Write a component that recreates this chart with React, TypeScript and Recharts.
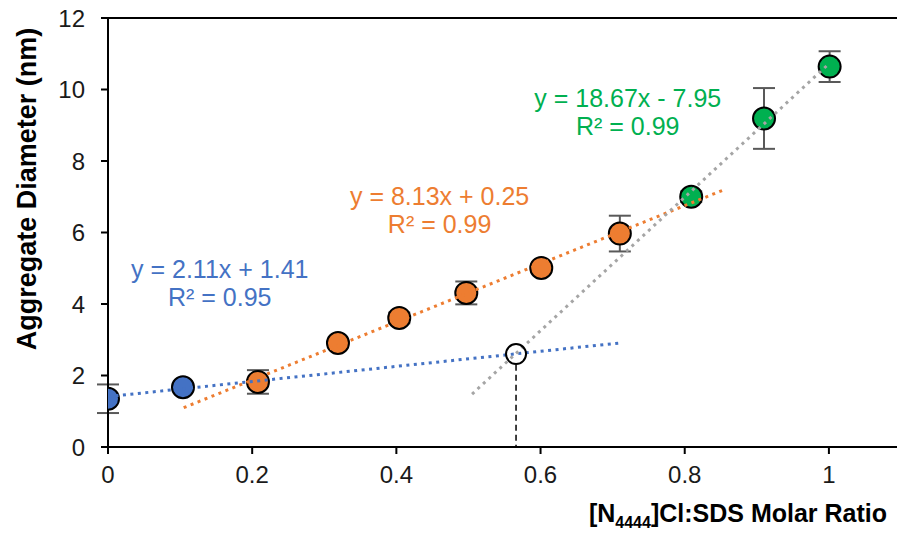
import React from 'react'
import {
  ComposedChart, Scatter, Line, XAxis, YAxis, ErrorBar,
  ReferenceLine, ReferenceDot,
} from 'recharts'

// measured points, grouped by regime
const blueX = [0, 0.104]
const blueY = [1.35, 1.67]
const blueErr = [0.4, 0.1]

const orangeX = [0.208, 0.319, 0.404, 0.497, 0.601, 0.71]
const orangeY = [1.82, 2.91, 3.61, 4.31, 5.01, 5.97]
const orangeErr = [0.33, 0.1, 0.15, 0.32, 0.1, 0.5]

const greenX = [0.809, 0.91, 1.001]
const greenY = [7.0, 9.19, 10.64]
const greenErr = [0.15, 0.85, 0.43]

// trendline end points (as drawn)
const blueTrendX = [0, 0.71]
const blueTrendY = [1.41, 2.91]
const orangeTrendX = [0.105, 0.855]
const orangeTrendY = [1.1, 7.2]
const grayTrendX = [0.505, 1.0]
const grayTrendY = [1.48, 10.72]

// intersection of blue and gray fits
const crossX = [0.566]
const crossY = [2.6]
const dropY = [2.3, 0]

const xTicks = [0, 0.2, 0.4, 0.6, 0.8, 1]
const yTicks = [0, 2, 4, 6, 8, 10, 12]

const equations = [
  { eq: 'y = 2.11x + 1.41', r2: 'R² = 0.95', color: '#4472C4' },
  { eq: 'y = 8.13x + 0.25', r2: 'R² = 0.99', color: '#ED7D31' },
  { eq: 'y = 18.67x - 7.95', r2: 'R² = 0.99', color: '#00B050' },
]
// where each equation block sits (centre of first baseline, in data units)
const eqAnchors = [
  { x: 0.155, y: 4.73 },
  { x: 0.46, y: 6.77 },
  { x: 0.721, y: 9.51 },
]

const toPts = (xs: number[], ys: number[], errs?: number[]) =>
  xs.map((x, i) => ({ x, y: ys[i], err: errs ? errs[i] : 0 }))

const FONT = '"Liberation Sans", Arial, sans-serif'

function Marker(fill: string, r = 11) {
  return (props: any) => (
    <circle cx={props.cx} cy={props.cy} r={r} fill={fill} stroke="#000" strokeWidth={2} />
  )
}

function EqLabel({ cx, cy, eq, r2, color }: any) {
  return (
    <text x={cx} y={cy} textAnchor="middle" fontSize={25} fill={color} fontFamily={FONT}>
      <tspan x={cx}>{eq}</tspan>
      <tspan x={cx} dy={28}>{r2}</tspan>
    </text>
  )
}

function YTitle() {
  return (
    <text
      x={27} y={189} transform="rotate(-90 27 189)" textAnchor="middle"
      dominantBaseline="central" fontSize={27} fontWeight="bold" fill="#000" fontFamily={FONT}
    >
      Aggregate Diameter (nm)
    </text>
  )
}

function XTitle() {
  return (
    <text x={887} y={522} textAnchor="end" fontSize={25} fontWeight="bold" fill="#000" fontFamily={FONT}>
      [N<tspan fontSize={16} dy={6}>4444</tspan>
      <tspan dy={-6}>]Cl:SDS Molar Ratio</tspan>
    </text>
  )
}

const dotted = {
  strokeWidth: 3, strokeDasharray: '3 4.5', dot: false, activeDot: false,
  isAnimationActive: false, type: 'linear' as const, zIndex: 700,
}

const groups = [
  { pts: toPts(blueX, blueY, blueErr), fill: '#4472C4' },
  { pts: toPts(orangeX, orangeY, orangeErr), fill: '#ED7D31' },
  { pts: toPts(greenX, greenY, greenErr), fill: '#00B050' },
]

export default function App() {
  return (
    <div style={{ position: 'absolute', left: 0, top: 0, width: 897, height: 544, overflow: 'hidden', background: '#fff' }}>
      <ComposedChart
        width={901} height={544}
        margin={{ top: 18, right: 0, bottom: 67, left: 48 }}
        style={{ fontFamily: FONT }}
      >
        <XAxis
          type="number" dataKey="x" domain={[0, 1.1]} ticks={xTicks} allowDataOverflow
          height={30} tickSize={7} tickMargin={12}
          axisLine={{ stroke: '#000', strokeWidth: 2 }}
          tickLine={{ stroke: '#000', strokeWidth: 2 }}
          tick={{ fontSize: 24, fill: '#1a1a1a' }}
          label={<XTitle />}
        />
        <YAxis
          type="number" dataKey="y" domain={[0, 12]} ticks={yTicks} allowDataOverflow
          width={60} tickSize={7} tickMargin={16}
          axisLine={{ stroke: '#000', strokeWidth: 2 }}
          tickLine={{ stroke: '#000', strokeWidth: 2 }}
          tick={{ fontSize: 24, fill: '#1a1a1a' }}
          label={<YTitle />}
        />
        <ReferenceLine y={12} stroke="#000" strokeWidth={2} />

        {groups.map((g, i) => (
          <Scatter key={'m' + i} data={g.pts} shape={Marker(g.fill)} isAnimationActive={false} zIndex={600}>
            {/* error bars sit behind the markers */}
            <ErrorBar dataKey="err" direction="y" width={11} stroke="#595959" strokeWidth={2} zIndex={100} />
          </Scatter>
        ))}

        <Line data={toPts(blueTrendX, blueTrendY)} dataKey="y" stroke="#4472C4" {...dotted} />
        <Line data={toPts(orangeTrendX, orangeTrendY)} dataKey="y" stroke="#ED7D31" {...dotted} />
        <Line data={toPts(grayTrendX, grayTrendY)} dataKey="y" stroke="#A5A5A5" {...dotted} />
        <Line
          data={toPts([crossX[0], crossX[0]], dropY)} dataKey="y" stroke="#000"
          strokeWidth={1.5} strokeDasharray="6 4" dot={false} activeDot={false}
          isAnimationActive={false} type="linear"
        />
        <Scatter
          data={toPts(crossX, crossY)} isAnimationActive={false} zIndex={800}
          shape={(p: any) => <circle cx={p.cx} cy={p.cy} r={10} fill="none" stroke="#000" strokeWidth={2} />}
        />

        {equations.map((e, i) => (
          <ReferenceDot
            key={i} x={eqAnchors[i].x} y={eqAnchors[i].y} r={0} ifOverflow="visible"
            shape={(p: any) => <EqLabel cx={p.cx} cy={p.cy} {...e} />}
          />
        ))}
      </ComposedChart>
    </div>
  )
}
